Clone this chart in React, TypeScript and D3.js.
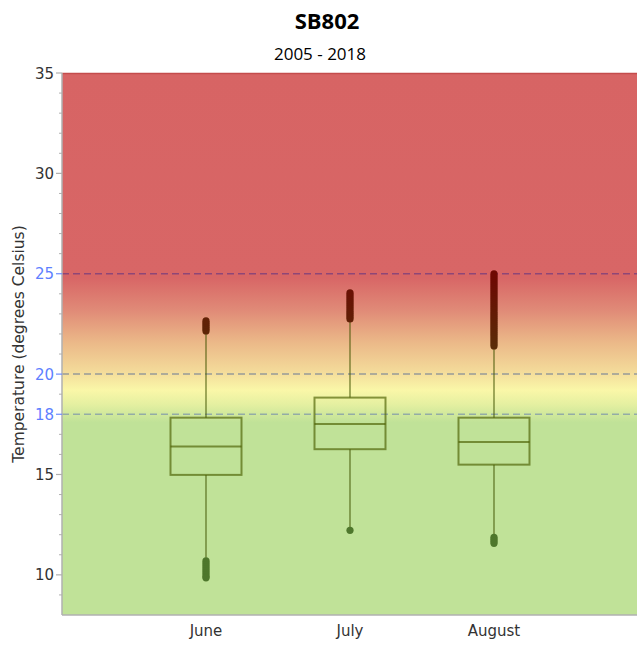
import React from "react";
import * as d3 from "d3";

const months = ["June", "July", "August"];
const q1 = [14.98, 16.26, 15.49];
const median = [16.39, 17.52, 16.62];
const q3 = [17.83, 18.83, 17.83];
const whiskerLow = [10.85, 12.3, 12.0];
const whiskerHigh = [22.05, 22.65, 21.3];

const juneOutliers = [22.15, 22.25, 22.35, 22.45, 22.55, 22.65, 10.7, 10.6, 10.5, 10.4, 10.3, 10.2, 10.1, 10.0, 9.9, 9.85];
const julyOutliers = [22.75, 22.85, 22.95, 23.05, 23.15, 23.25, 23.35, 23.45, 23.55, 23.65, 23.75, 23.85, 23.95, 24.05, 12.22];
const augustOutliers = [
  21.4, 21.5, 21.6, 21.7, 21.8, 21.9, 22.0, 22.1, 22.2, 22.3, 22.4, 22.5, 22.6, 22.7, 22.8, 22.9, 23.0,
  23.1, 23.2, 23.3, 23.4, 23.5, 23.6, 23.7, 23.8, 23.9, 24.0, 24.1, 24.2, 24.3, 24.4, 24.5, 24.6, 24.7,
  24.8, 24.9, 25.0, 11.87, 11.77, 11.67, 11.57,
];
const outliers = [juneOutliers, julyOutliers, augustOutliers];

const majorTicks = [10, 15, 18, 20, 25, 30, 35];
const highlightTicks = [18, 20, 25];
const minorTicks = [9, 11, 12, 13, 14, 16, 17, 19, 21, 22, 23, 24, 26, 27, 28, 29, 31, 32, 33, 34];
const thresholdValues = [25, 20, 18];
const thresholdColors = ["#8e4677", "#969a98", "#93aca6"];

const gradientValues = [35, 24.8, 23.2, 21.6, 20.2, 19.2, 18.5, 17.6, 8];
const gradientColors = ["#d76464", "#d86666", "#e08a77", "#ebb888", "#f3d999", "#faf7a8", "#e5f0a1", "#c0e298", "#c0e298"];

const W = 637;
const H = 645;
const left = 62;
const right = 637;
const top = 73;
const bottom = 615;

export default function App() {
  const y = d3.scaleLinear().domain([8, 35]).range([bottom, top]);
  const x = d3.scalePoint<string>().domain(months).range([left, right + 1]).padding(1);
  const boxW = 71;
  const tickFont = "'DejaVu Sans', sans-serif";

  const outlierColor = (v: number) =>
    v > 19
      ? d3.interpolateRgb("#5a2c08", "#6e0903")(Math.max(0, Math.min(1, (v - 21.5) / 3.5)))
      : "#4e772c";

  return (
    <svg width={W} height={H} style={{ position: "absolute", left: 0, top: 0, background: "#fff" }}>
      <defs>
        <linearGradient id="bg" gradientUnits="userSpaceOnUse" x1={0} x2={0} y1={y(35)} y2={y(8)}>
          {gradientValues.map((v, i) => (
            <stop key={i} offset={(y(v) - y(35)) / (y(8) - y(35))} stopColor={gradientColors[i]} />
          ))}
        </linearGradient>
      </defs>

      <text x={327} y={29} textAnchor="middle" fontFamily="'Open Sans', sans-serif" fontWeight="bold" fontSize={22} fill="#000">
        SB802
      </text>
      <text x={320} y={60} textAnchor="middle" fontFamily="'Open Sans', sans-serif" fontSize={17} fill="#000">
        2005 - 2018
      </text>

      <rect x={left} y={top} width={right - left} height={bottom - top} fill="url(#bg)" />
      <line x1={left} x2={right} y1={top + 0.5} y2={top + 0.5} stroke="#c44c4c" strokeWidth={1.5} />

      {thresholdValues.map((v, i) => (
        <line key={v} x1={left} x2={right} y1={y(v)} y2={y(v)} stroke={thresholdColors[i]} strokeWidth={1.5} strokeDasharray="7,4" />
      ))}

      {/* axes */}
      <line x1={left} x2={left} y1={top} y2={bottom} stroke="#b0b0b0" strokeWidth={1.5} />
      <line x1={left} x2={right} y1={bottom} y2={bottom} stroke="#b0b0b0" strokeWidth={1.5} />
      {minorTicks.map((v) => (
        <line key={v} x1={left - 3} x2={left} y1={y(v)} y2={y(v)} stroke="#b0b0b0" strokeWidth={1} />
      ))}
      {majorTicks.map((v) => {
        const hl = highlightTicks.includes(v);
        return (
          <g key={v}>
            <line x1={left - 6} x2={left} y1={y(v)} y2={y(v)} stroke={hl ? "#6d8cff" : "#b0b0b0"} strokeWidth={1.2} />
            <text x={54} y={y(v) + 5.5} textAnchor="end" fontFamily={tickFont} fontSize={15} fill={hl ? "#5e7fff" : "#333"}>
              {v}
            </text>
          </g>
        );
      })}
      <text
        transform={`translate(24, ${344}) rotate(-90)`}
        textAnchor="middle"
        fontFamily={tickFont}
        fontSize={15.5}
        fill="#333"
      >
        Temperature (degrees Celsius)
      </text>

      {months.map((m) => (
        <text key={m} x={x(m)} y={636} textAnchor="middle" fontFamily={tickFont} fontSize={15} fill="#333">
          {m}
        </text>
      ))}

      {/* boxes */}
      {months.map((m, i) => {
        const cx = x(m) as number;
        return (
          <g key={m}>
            <line x1={cx} x2={cx} y1={y(q3[i])} y2={y(whiskerHigh[i])} stroke="#3f5200" strokeOpacity={0.6} strokeWidth={1.6} />
            <line x1={cx} x2={cx} y1={y(q1[i])} y2={y(whiskerLow[i])} stroke="#3f5200" strokeOpacity={0.6} strokeWidth={1.6} />
            <rect x={cx - boxW / 2} y={y(q3[i])} width={boxW} height={y(q1[i]) - y(q3[i])} fill="none" stroke="#4a5e00" strokeOpacity={0.65} strokeWidth={2} />
            <line x1={cx - boxW / 2} x2={cx + boxW / 2} y1={y(median[i])} y2={y(median[i])} stroke="#4a5e00" strokeOpacity={0.65} strokeWidth={2} />
            {outliers[i].map((v, j) => (
              <circle key={j} cx={cx} cy={y(v)} r={3.6} fill={outlierColor(v)} />
            ))}
          </g>
        );
      })}
    </svg>
  );
}
